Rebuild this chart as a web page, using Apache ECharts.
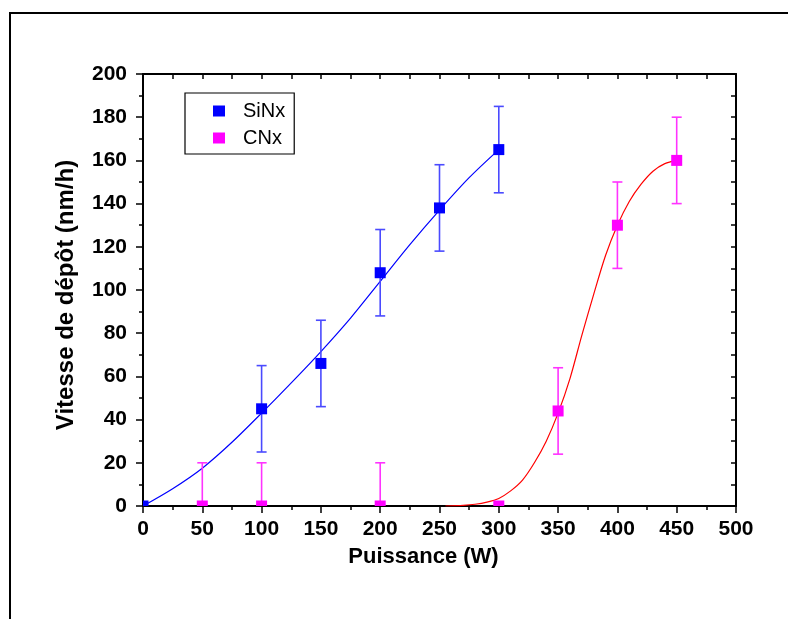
<!DOCTYPE html>
<html>
<head>
<meta charset="utf-8">
<script src="https://cdn.jsdelivr.net/npm/echarts@6/dist/echarts.min.js"></script>
<style>html,body{margin:0;padding:0;background:#fff;}#chart{width:788px;height:619px;}</style>
</head>
<body>
<div id="chart"></div>
<script>
// ---- data ----
const xTicks = [0, 50, 100, 150, 200, 250, 300, 350, 400, 450, 500];
const yTicks = [0, 20, 40, 60, 80, 100, 120, 140, 160, 180, 200];

const sinxX   = [0, 100, 150, 200, 250, 300];
const sinxY   = [0, 45, 66, 108, 138, 165];
const sinxErr = [0, 20, 20, 20, 20, 20];

const cnxX   = [50, 100, 200, 300, 350, 400, 450];
const cnxY   = [0, 0, 0, 0, 44, 130, 160];
const cnxErr = [20, 20, 20, 0, 20, 20, 20];

// fitted curves as drawn in the reference (sampled by eye)
const sinxFitX = [0, 25, 50, 75, 100, 125, 150, 175, 200, 225, 250, 275, 300];
const sinxFitY = [0, 8, 17.5, 29.5, 43, 57, 71.5, 87, 104, 121, 137, 152, 165];
const cnxFitX = [255, 270, 280, 290, 300, 310, 320, 330, 340, 350, 360, 370, 380, 390, 400, 410, 420, 430, 440, 450];
const cnxFitY = [0, 0.3, 0.8, 1.8, 3.5, 7, 12, 20, 30, 43, 59, 79, 98, 116, 130, 141, 149, 155, 158.5, 160];

const colors = { SiNx: '#0000ff', CNx: '#ff00ff', SiNxErr: '#4a4aff', CNxErr: '#ff33ff', SiNxFit: '#0000ff', CNxFit: '#ff0000' };

// ---- helpers ----
const zip = (a, b) => a.map((v, i) => [v, b[i]]);
const zip3 = (a, b, c) => a.map((v, i) => [v, b[i], c[i]]);

function markerItem(color, size) {
  return function (params, api) {
    const p = api.coord([api.value(0), api.value(1)]);
    const rect = echarts.graphic.clipRectByRect(
      { x: p[0] - size / 2, y: p[1] - size / 2, width: size, height: size },
      { x: params.coordSys.x, y: params.coordSys.y, width: params.coordSys.width, height: params.coordSys.height }
    );
    if (!rect) return;
    return { type: 'rect', shape: rect, style: { fill: color } };
  };
}

function errItem(color) {
  return function (params, api) {
    const x = api.value(0), y = api.value(1), e = api.value(2);
    if (!e) return;
    const yMin = 0;
    const top = api.coord([x, y + e]);
    const bot = api.coord([x, Math.max(yMin, y - e)]);
    const hw = 5;
    const children = [
      { type: 'line', shape: { x1: top[0], y1: top[1], x2: bot[0], y2: bot[1] }, style: { stroke: color, lineWidth: 1.6 } },
      { type: 'line', shape: { x1: top[0] - hw, y1: top[1], x2: top[0] + hw, y2: top[1] }, style: { stroke: color, lineWidth: 1.6 } }
    ];
    if (y - e >= yMin) {
      children.push({ type: 'line', shape: { x1: bot[0] - hw, y1: bot[1], x2: bot[0] + hw, y2: bot[1] }, style: { stroke: color, lineWidth: 1.6 } });
    }
    return { type: 'group', children };
  };
}

const chart = echarts.init(document.getElementById('chart'), null, { renderer: 'canvas' });

const fontFam = 'Liberation Sans, Arial, Helvetica, sans-serif';

const option = {
  animation: false,
  backgroundColor: '#ffffff',
  graphic: [
    { type: 'rect', shape: { x: 10, y: 13, width: 800, height: 640 }, style: { fill: 'none', stroke: '#000', lineWidth: 2 }, z: 0, silent: true }
  ],
  grid: { left: 143, right: 52, top: 74, bottom: 113, containLabel: false },
  legend: {
    orient: 'vertical',
    left: 185,
    top: 93,
    padding: [8, 9, 6, 28],
    itemGap: 7,
    itemWidth: 12,
    itemHeight: 11,
    borderColor: '#000',
    borderWidth: 1.2,
    textStyle: { fontFamily: fontFam, fontSize: 20, color: '#000', padding: [0, 0, 0, 13] },
    data: [
      { name: 'SiNx', icon: 'rect', itemStyle: { color: colors.SiNx } },
      { name: 'CNx', icon: 'rect', itemStyle: { color: colors.CNx } }
    ]
  },
  xAxis: [
    {
      type: 'value', min: xTicks[0], max: xTicks[xTicks.length - 1], interval: 50,
      name: 'Puissance (W)', nameLocation: 'middle', nameGap: 40,
      nameTextStyle: { fontFamily: fontFam, fontSize: 22, fontWeight: 'bold', color: '#000', padding: [0, 32, 0, 0] },
      axisLine: { onZero: false, lineStyle: { color: '#000', width: 2 } },
      axisTick: { inside: false, length: 7, lineStyle: { color: '#000', width: 1.5 } },
      minorTick: { show: true, splitNumber: 2, length: 4, lineStyle: { color: '#000', width: 1.5 } },
      axisLabel: { margin: 13, fontFamily: fontFam, fontSize: 21, fontWeight: 'bold', color: '#000',
        formatter: v => xTicks.includes(v) ? String(v) : '' },
      splitLine: { show: false }
    },
    {
      type: 'value', position: 'top', min: xTicks[0], max: xTicks[xTicks.length - 1], interval: 25,
      axisLine: { onZero: false, lineStyle: { color: '#000', width: 2 } },
      axisTick: { inside: true, length: 5, lineStyle: { color: '#000', width: 1.5 } },
      axisLabel: { show: false }, splitLine: { show: false }
    }
  ],
  yAxis: [
    {
      type: 'value', min: yTicks[0], max: yTicks[yTicks.length - 1], interval: 20,
      name: 'Vitesse de dépôt (nm/h)', nameLocation: 'middle', nameGap: 65,
      nameTextStyle: { fontFamily: fontFam, fontSize: 24, fontWeight: 'bold', color: '#000', padding: [0, 10, 0, 0] },
      axisLine: { onZero: false, lineStyle: { color: '#000', width: 2 } },
      axisTick: { inside: false, length: 7, lineStyle: { color: '#000', width: 1.5 } },
      minorTick: { show: true, splitNumber: 2, length: 4, lineStyle: { color: '#000', width: 1.5 } },
      axisLabel: { margin: 16, fontFamily: fontFam, fontSize: 21, fontWeight: 'bold', color: '#000',
        formatter: v => yTicks.includes(v) ? String(v) : '' },
      splitLine: { show: false }
    },
    {
      type: 'value', position: 'right', min: yTicks[0], max: yTicks[yTicks.length - 1], interval: 10,
      axisLine: { onZero: false, lineStyle: { color: '#000', width: 2 } },
      axisTick: { inside: true, length: 5, lineStyle: { color: '#000', width: 1.5 } },
      axisLabel: { show: false }, splitLine: { show: false }
    }
  ],
  series: [
    { name: 'SiNx fit', type: 'line', data: zip(sinxFitX, sinxFitY), smooth: 0.3, symbol: 'none',
      lineStyle: { color: colors.SiNxFit, width: 1.2 }, z: 3 },
    { name: 'CNx fit', type: 'line', data: zip(cnxFitX, cnxFitY), smooth: 0.3, symbol: 'none',
      lineStyle: { color: colors.CNxFit, width: 1.2 }, z: 3 },
    { name: 'SiNx err', type: 'custom', renderItem: errItem(colors.SiNxErr), data: zip3(sinxX, sinxY, sinxErr), z: 4 },
    { name: 'CNx err', type: 'custom', renderItem: errItem(colors.CNxErr), data: zip3(cnxX, cnxY, cnxErr), z: 4 },
    { name: 'SiNx', type: 'custom', renderItem: markerItem(colors.SiNx, 11), data: zip(sinxX, sinxY), itemStyle: { color: colors.SiNx }, z: 5 },
    { name: 'CNx', type: 'custom', renderItem: markerItem(colors.CNx, 11), data: zip(cnxX, cnxY), itemStyle: { color: colors.CNx }, z: 5 }
  ]
};

chart.setOption(option);
</script>
</body>
</html>
